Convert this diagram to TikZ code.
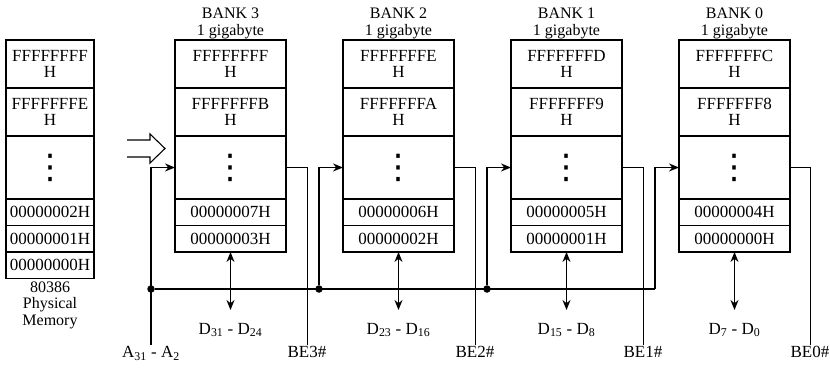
\documentclass[tikz,border=0pt]{standalone}
\usepackage{fontspec}
\setmainfont{Liberation Serif}
\newfontfamily\dotsfont{DejaVu Sans}
\usetikzlibrary{positioning, arrows.meta}

\begin{document}
\begin{tikzpicture}[x=1pt, y=-1pt, >={Stealth[length=10pt, width=8pt]}, node distance=0pt,
    cell/.style={draw, line width=1.1pt, inner sep=0pt, outer sep=0pt, align=center, font=\fontsize{17}{15.5}\selectfont},
    pmcell/.style={cell, minimum width=88pt},
    bankcell/.style={cell, minimum width=111pt},
    tall/.style={minimum height=48pt},
    dotrow/.style={minimum height=63pt, font=\dotsfont\fontsize{34}{34}\selectfont},
    short/.style={minimum height=26.5pt},
    lbl/.style={inner sep=1pt, font=\fontsize{17}{15}\selectfont},
    banklbl/.style={lbl, align=center, font=\fontsize{16}{16.5}\selectfont},
    bus/.style={line width=1.4pt},
    ctrl/.style={line width=0.8pt},
    junction/.style={circle, fill, inner sep=0pt, minimum size=7.5pt}]
  \useasboundingbox (0,0) rectangle (830,367);

  % physical memory
  \node[pmcell, tall] (pm1) at (50,64) {FFFFFFFF\\H};
  \node[pmcell, tall] (pm2) [below=of pm1] {FFFFFFFE\\H};
  \node[pmcell, dotrow] (pm3) [below=of pm2] {⋮};
  \node[pmcell, short] (pm4) [below=of pm3] {00000002H};
  \node[pmcell, short] (pm5) [below=of pm4] {00000001H};
  \node[pmcell, short] (pm6) [below=of pm5] {00000000H};
  \node[banklbl] (pmlbl) [below=2pt of pm6] {80386\\Physical\\Memory};

  % bank 3
  \node[bankcell, tall] (b3a) at (230.5,64) {FFFFFFFF\\H};
  \node[bankcell, tall] (b3b) [below=of b3a] {FFFFFFFB\\H};
  \node[bankcell, dotrow] (b3c) [below=of b3b] {⋮};
  \node[bankcell, short] (b3d) [below=of b3c] {00000007H};
  \node[bankcell, short] (b3e) [below=of b3d] {00000003H};
  \node[banklbl] (b3lbl) [above=0pt of b3a] {BANK 3\\1 gigabyte};

  % bank 2
  \node[bankcell, tall] (b2a) [right=57pt of b3a] {FFFFFFFE\\H};
  \node[bankcell, tall] (b2b) [below=of b2a] {FFFFFFFA\\H};
  \node[bankcell, dotrow] (b2c) [below=of b2b] {⋮};
  \node[bankcell, short] (b2d) [below=of b2c] {00000006H};
  \node[bankcell, short] (b2e) [below=of b2d] {00000002H};
  \node[banklbl] (b2lbl) [above=0pt of b2a] {BANK 2\\1 gigabyte};

  % bank 1
  \node[bankcell, tall] (b1a) [right=57pt of b2a] {FFFFFFFD\\H};
  \node[bankcell, tall] (b1b) [below=of b1a] {FFFFFFF9\\H};
  \node[bankcell, dotrow] (b1c) [below=of b1b] {⋮};
  \node[bankcell, short] (b1d) [below=of b1c] {00000005H};
  \node[bankcell, short] (b1e) [below=of b1d] {00000001H};
  \node[banklbl] (b1lbl) [above=0pt of b1a] {BANK 1\\1 gigabyte};

  % bank 0
  \node[bankcell, tall] (b0a) [right=57pt of b1a] {FFFFFFFC\\H};
  \node[bankcell, tall] (b0b) [below=of b0a] {FFFFFFF8\\H};
  \node[bankcell, dotrow] (b0c) [below=of b0b] {⋮};
  \node[bankcell, short] (b0d) [below=of b0c] {00000004H};
  \node[bankcell, short] (b0e) [below=of b0d] {00000000H};
  \node[banklbl] (b0lbl) [above=0pt of b0a] {BANK 0\\1 gigabyte};

  % hollow arrow
  \draw[line width=1.1pt] (127,140) -- (150,140) -- (150,134) -- (165,148.5)
    -- (150,163) -- (150,157) -- (127,157);

  % data lines
  \node[lbl] (d3) [below=70pt of b3e] {D\textsubscript{31} - D\textsubscript{24}};
  \node[lbl] (d2) [below=70pt of b2e] {D\textsubscript{23} - D\textsubscript{16}};
  \node[lbl] (d1) [below=70pt of b1e] {D\textsubscript{15} - D\textsubscript{8}};
  \node[lbl] (d0) [below=70pt of b0e] {D\textsubscript{7} - D\textsubscript{0}};
  \draw[bus, <->, shorten >=12pt] (b3e.south) -- (d3.north);
  \draw[bus, <->, shorten >=12pt] (b2e.south) -- (d2.north);
  \draw[bus, <->, shorten >=12pt] (b1e.south) -- (d1.north);
  \draw[bus, <->, shorten >=12pt] (b0e.south) -- (d0.north);

  % address bus
  \node[lbl, anchor=north] (alab) at (151,345) {A\textsubscript{31} - A\textsubscript{2}};
  \node[junction] (j3) at (151,289) {};
  \node[junction] (j2) at (319,289) {};
  \node[junction] (j1) at (487,289) {};
  \coordinate (j0) at (655,289);
  \draw[bus, ->] (alab.north) |- (b3c.west);
  \draw[bus] (j3) -- (j0);
  \draw[bus, ->] (j2) |- (b2c.west);
  \draw[bus, ->] (j1) |- (b1c.west);
  \draw[bus, ->] (j0) |- (b0c.west);

  % byte enables
  \node[lbl, anchor=north] (be3) at (307,345) {BE3\#};
  \node[lbl, anchor=north] (be2) at (475,345) {BE2\#};
  \node[lbl, anchor=north] (be1) at (643,345) {BE1\#};
  \node[lbl, anchor=north] (be0) at (810,345) {BE0\#};
  \draw[ctrl] (b3c.east) -| (be3.north);
  \draw[ctrl] (b2c.east) -| (be2.north);
  \draw[ctrl] (b1c.east) -| (be1.north);
  \draw[ctrl] (b0c.east) -| (be0.north);
\end{tikzpicture}
\end{document}
